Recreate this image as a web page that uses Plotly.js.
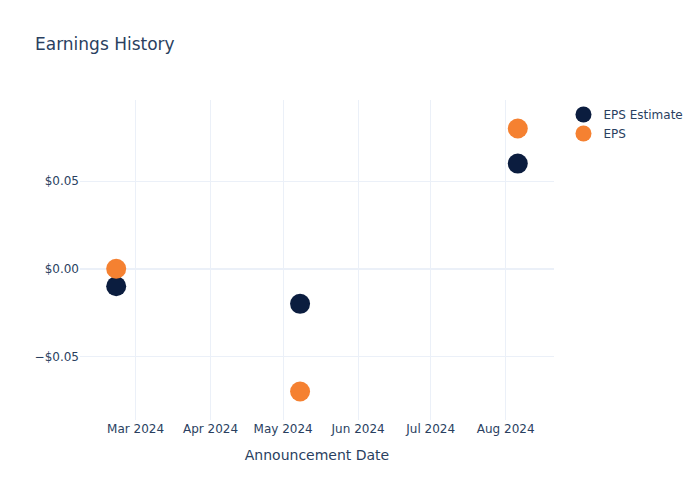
<!DOCTYPE html>
<html>
<head>
<meta charset="utf-8">
<script src="https://cdn.plot.ly/plotly-3.0.1.min.js"></script>
<style>html,body{margin:0;padding:0;background:#fff;}#chart{width:700px;height:500px;}</style>
</head>
<body>
<div id="chart"></div>
<script>
const dates = ["2024-02-22", "2024-05-08", "2024-08-06"];
const epsEstimate = [-0.01, -0.02, 0.06];
const epsActual = [0.00, -0.07, 0.08];
const seriesNames = ["EPS Estimate", "EPS"];

const traces = [
  {x: dates, y: epsEstimate, name: seriesNames[0], type: "scatter", mode: "markers",
   marker: {color: "#0B1D3F", size: 20}},
  {x: dates, y: epsActual, name: seriesNames[1], type: "scatter", mode: "markers",
   marker: {color: "#F58131", size: 20}}
];

const layout = {
  width: 700, height: 500,
  font: {family: "'DejaVu Sans', verdana, sans-serif", color: "#2a3f5f", size: 12},
  title: {text: "Earnings History", x: 0.05, font: {size: 17, color: "#2a3f5f"}},
  paper_bgcolor: "#fff", plot_bgcolor: "#fff",
  xaxis: {
    title: {text: "Announcement Date", font: {size: 14}, standoff: 15},
    type: "date", gridcolor: "#EBF0F8", showline: false, zerolinecolor: "#EBF0F8",
    ticks: "", automargin: true
  },
  yaxis: {
    tickformat: "$.2f", gridcolor: "#EBF0F8", zerolinecolor: "#EBF0F8", zerolinewidth: 2,
    showline: false, ticks: "", dtick: 0.05, automargin: true
  },
  legend: {font: {size: 12}},
  margin: {l: 80, r: 80, t: 100, b: 80},
  hovermode: "closest"
};

Plotly.newPlot("chart", traces, layout, {displayModeBar: false});
</script>
</body>
</html>
